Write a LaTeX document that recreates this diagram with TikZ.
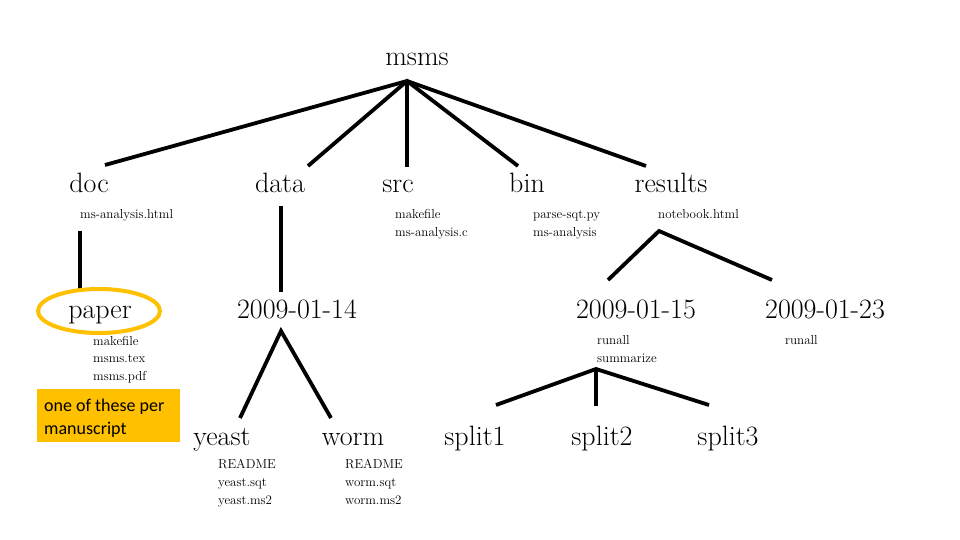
\documentclass[tikz,border=0pt]{standalone}
\usepackage{fontspec}
\newfontfamily\notefont{Carlito}
\definecolor{hl}{HTML}{FFC000}
\begin{document}
\begin{tikzpicture}[x=1pt,y=-1pt,
  big/.style={anchor=base,inner sep=0pt,font=\fontsize{28}{30}\selectfont},
  small/.style={anchor=base west,inner sep=0pt,font=\fontsize{13}{15}\selectfont},
  note/.style={anchor=base west,inner sep=0pt,font=\notefont\fontsize{18}{20}\selectfont},
  edge/.style={line width=3.8pt,line join=miter}]
\useasboundingbox (0,0) rectangle (960,540);
% big labels
\node[big] (msms) at (417,66) {msms};
\node[big] (doc) at (89,193) {doc};
\node[big] (data) at (280,193) {data};
\node[big] (src) at (398,193) {src};
\node[big] (bin) at (527,193) {bin};
\node[big] (results) at (671,193) {results};
\node[big] (paper) at (100,318) {paper};
\node[big] (d14) at (297,318) {2009-01-14};
\node[big] (d15) at (636,318) {2009-01-15};
\node[big] (d23) at (825,318) {2009-01-23};
\node[big] (yeast) at (222,445) {yeast};
\node[big] (worm) at (353,445) {worm};
\node[big] (s1) at (475,445) {split1};
\node[big] (s2) at (602,445) {split2};
\node[big] (s3) at (728,445) {split3};
% small labels
\node[small] (docf) at (80,218) {ms-analysis.html};
\node[small] (srcf1) at (395,218) {makefile};
\node[small] (srcf2) at (395,236) {ms-analysis.c};
\node[small] (binf1) at (533,218) {parse-sqt.py};
\node[small] (binf2) at (533,236) {ms-analysis};
\node[small] (resf) at (658,218) {notebook.html};
\node[small] (pf1) at (93,345) {makefile};
\node[small] (pf2) at (93,362) {msms.tex};
\node[small] (pf3) at (93,380) {msms.pdf};
\node[small] (f15a) at (597,344) {runall};
\node[small] (f15b) at (597,362) {summarize};
\node[small] (f23) at (785,344) {runall};
\node[small] (yf1) at (218,468) {README};
\node[small] (yf2) at (218,486) {yeast.sqt};
\node[small] (yf3) at (218,504) {yeast.ms2};
\node[small] (wf1) at (345,468) {README};
\node[small] (wf2) at (345,486) {worm.sqt};
\node[small] (wf3) at (345,504) {worm.ms2};
% connector coordinates
\coordinate (top) at (407,81);
\coordinate (eDoc) at (105,165);
\coordinate (eData) at (308,166);
\coordinate (eSrc) at (407,167);
\coordinate (eBin) at (518,166);
\coordinate (eRes) at (646,166);
\coordinate (docA) at (80,231);
\coordinate (docB) at (80,289);
\coordinate (dataA) at (281,206);
\coordinate (dataB) at (281,292);
\coordinate (resA) at (659,231);
\coordinate (resL) at (608,280);
\coordinate (resR) at (772,280);
\coordinate (d14A) at (281,331);
\coordinate (d14L) at (240,418);
\coordinate (d14R) at (331,418);
\coordinate (d15A) at (596,369);
\coordinate (d15L) at (496,405);
\coordinate (d15M) at (596,406);
\coordinate (d15R) at (709,405);
\draw[edge] (eDoc) -- (top) -- (eRes);
\draw[edge] (eData) -- (top) -- (eBin);
\draw[edge] (top) -- (eSrc);
\draw[edge] (docA) -- (docB);
\draw[edge] (dataA) -- (dataB);
\draw[edge] (resL) -- (resA) -- (resR);
\draw[edge] (d14L) -- (d14A) -- (d14R);
\draw[edge] (d15L) -- (d15A) -- (d15R);
\draw[edge] (d15A) -- (d15M);
% highlight
\draw[hl,line width=4pt] (99,311) ellipse [x radius=61,y radius=22];
\node[fill=hl,minimum width=143pt,minimum height=53pt,anchor=north west,inner sep=0pt] (note) at (37,389) {};
\node[note] (n1) at (44,411) {one of these per};
\node[note] (n2) at (44,434) {manuscript};
\end{tikzpicture}
\end{document}
